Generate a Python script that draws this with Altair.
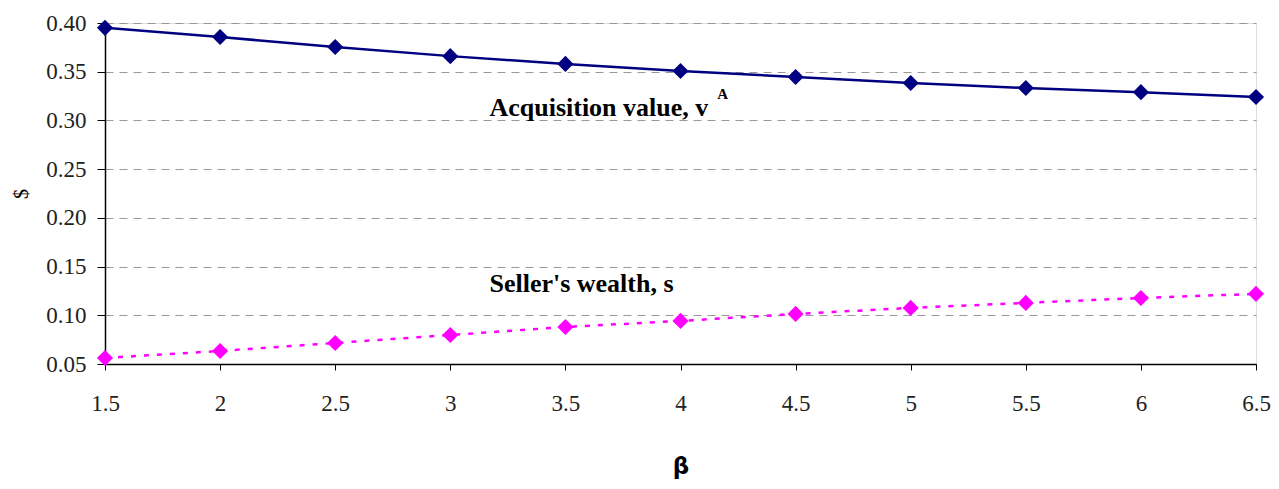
import altair as alt
import pandas as pd

beta = [1.5, 2, 2.5, 3, 3.5, 4, 4.5, 5, 5.5, 6, 6.5]
acquisition = [0.395, 0.3856, 0.3754, 0.366, 0.358, 0.3507, 0.3446, 0.3384, 0.3333, 0.329, 0.324]
seller = [0.0562, 0.0634, 0.0716, 0.0798, 0.088, 0.0942, 0.1014, 0.1076, 0.1127, 0.1178, 0.122]

label_text = ["Acquisition value, v", "A", "Seller's wealth, s"]
label_beta = [3.17, 4.16, 3.17]
label_val = [0.3125, 0.3275, 0.1322]
label_size = [26, 15, 26]

SERIF = "Liberation Serif, Times New Roman, serif"

df = pd.DataFrame({
    "beta": beta * 2,
    "value": acquisition + seller,
    "series": ["Acquisition value"] * len(beta) + ["Seller's wealth"] * len(beta),
})
labels = pd.DataFrame({"beta": label_beta, "value": label_val, "text": label_text, "size": label_size})

xscale = alt.Scale(domain=[1.5, 6.5], nice=False, zero=False)
yscale = alt.Scale(domain=[0.05, 0.40], nice=False, zero=False)

xaxis = alt.Axis(values=beta, title="β", format="~g", grid=False, domainColor="black", domainWidth=1.5,
                 tickColor="black", tickSize=6, labelPadding=22, labelFont=SERIF,
                 labelFontSize=23, labelColor="#222", titleFont="DejaVu Sans", titleFontSize=23,
                 titleFontWeight="bold", titlePadding=40, labelFlush=False, labelOverlap=False)
yaxis = alt.Axis(values=[0.05, 0.10, 0.15, 0.20, 0.25, 0.30, 0.35, 0.40], format=".2f", title="$",
                 grid=True, gridDash=[8, 6], gridColor="#999", gridWidth=1,
                 domainColor="black", domainWidth=1.5, tickColor="black", tickSize=8,
                 labelPadding=11, labelFont=SERIF, labelFontSize=23, labelColor="#222",
                 titleFont=SERIF, titleFontSize=20, titleFontWeight="normal",
                 titlePadding=14, labelFlush=False, labelOverlap=False)

acq = alt.Chart(df).transform_filter(alt.datum.series == "Acquisition value").mark_line(
    color="#000080", strokeWidth=2.5,
    point=alt.OverlayMarkDef(shape="diamond", size=260, color="#000080", filled=True, opacity=1),
).encode(x=alt.X("beta:Q", scale=xscale, axis=xaxis), y=alt.Y("value:Q", scale=yscale, axis=yaxis))

sel = alt.Chart(df).transform_filter(alt.datum.series == "Seller's wealth").mark_line(
    color="#FF00FF", strokeWidth=2.5, strokeDash=[5, 8],
    point=alt.OverlayMarkDef(shape="diamond", size=260, color="#FF00FF", filled=True, opacity=1),
).encode(x=alt.X("beta:Q", scale=xscale), y=alt.Y("value:Q", scale=yscale))

txt = alt.Chart(labels).mark_text(align="left", baseline="middle", font=SERIF,
                                  fontWeight="bold", color="black").encode(
    x=alt.X("beta:Q", scale=xscale), y=alt.Y("value:Q", scale=yscale), text="text:N",
    size=alt.Size("size:Q", scale=None, legend=None))

chart = alt.layer(acq, sel, txt).properties(
    width=1151, height=341,
    autosize=alt.AutoSizeParams(type="none"),
    padding={"left": 97, "top": 15, "right": 15, "bottom": 117},
).configure_view(stroke="#888", strokeWidth=2).configure(background="white")

chart.save("out.html", embed_options={"renderer": "svg", "actions": False})
